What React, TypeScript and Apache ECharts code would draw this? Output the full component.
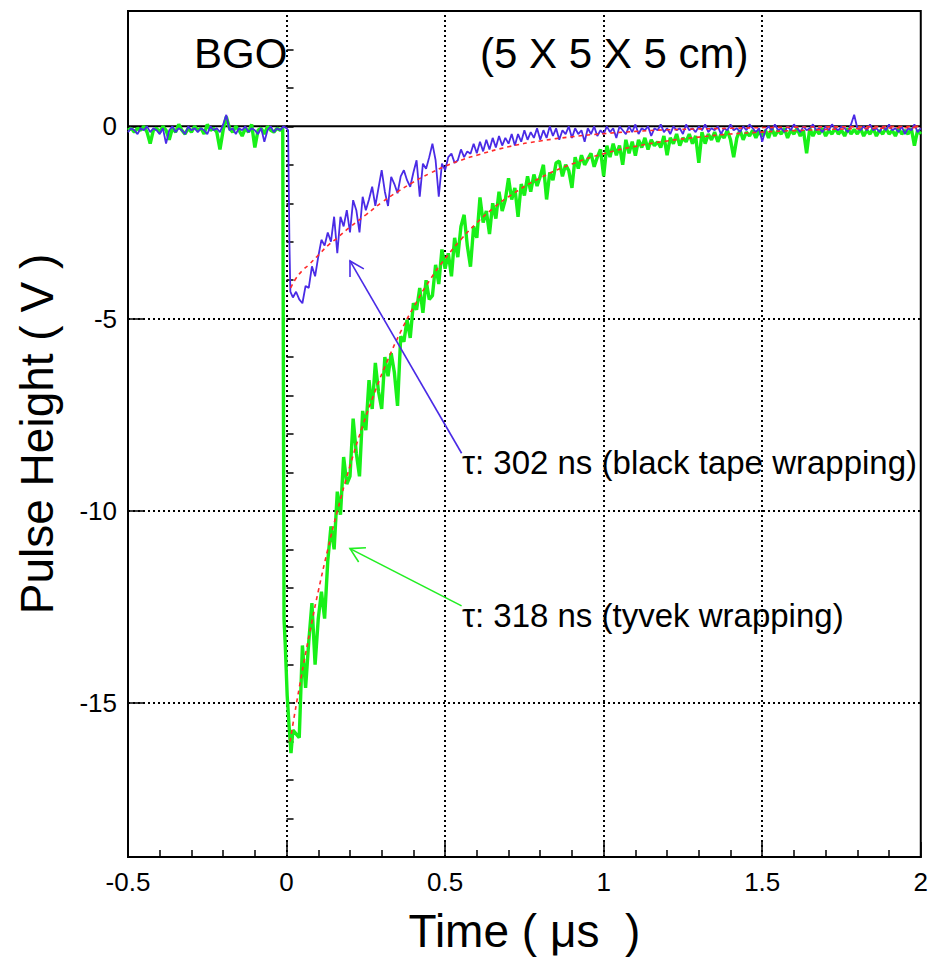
import React, { useEffect, useRef } from "react";
import * as echarts from "echarts";

// ---------- axes ----------
const X_MIN = -0.5;
const X_MAX = 2;
const Y_MIN = -19;
const Y_MAX = 3;
const yMajorTicks = [-15, -10, -5, 0];
const yMinorTicks = [-19, -18, -17, -16, -15, -14, -13, -12, -11, -10, -9, -8, -7, -6, -5, -4, -3, -2, -1, 0, 1, 2, 3];
const xGridValues = [0, 0.5, 1, 1.5];
const yGridValues = [-5, -10, -15];

// ---------- green trace (tyvek wrapping), sampled every 0.01 us ----------
// t = -0.50 .. -0.02
const greenBaseline = [
  -0.1, -0.05, -0.15, -0.05, -0.1, 0.0, -0.15, -0.45, -0.1, -0.05,
  -0.15, 0.0, -0.1, -0.35, -0.05, -0.15, 0.05, -0.1, -0.2, -0.05,
  -0.15, 0.0, -0.1, -0.05, -0.2, 0.05, -0.1, -0.05, -0.15, -0.6,
  -0.1, 0.25, -0.05, -0.15, 0.0, -0.1, -0.25, -0.05, -0.15, 0.05,
  -0.55, -0.1, -0.05, -0.2, 0.0, -0.1, -0.15, -0.05, -0.1,
];
// leading edge
const greenEdgeTimes = [-0.012, -0.008, -0.004, 0.002, 0.008, 0.014, 0.02];
const greenEdgeValues = [-0.05, -12.8, -13.5, -14.8, -15.6, -16.3, -15.7];
// t = 0.03 .. 2.00
const greenDecay = [
  -15.8, -15.9, -13.5, -14.6, -13.4, -12.4, -14.0, -12.8, -12.1, -12.8,
  -11.3, -10.4, -11.0, -9.5, -10.1, -8.6, -9.3, -9.1, -7.6, -8.5,
  -9.1, -7.4, -7.9, -6.6, -7.35, -6.15, -6.9, -7.35, -6.0, -6.5,
  -5.9, -6.4, -7.27, -5.46, -5.6, -5.03, -5.5, -4.6, -4.77, -4.2,
  -4.85, -4.0, -4.5,
  -4.4, -3.6, -4.1, -3.2, -3.7, -3.3, -3.9, -2.9, -3.4, -2.6,
  -2.3, -3.1, -3.65, -2.6, -2.9, -1.85, -2.5, -2.2, -2.8, -2.0,
  -2.4, -1.7, -2.2, -1.9, -1.35, -1.9, -1.6, -2.35, -1.5, -1.8,
  -1.3, -1.7, -1.25, -1.55, -1.3, -1.0, -1.9, -1.2, -1.4, -0.95,
  -0.9, -1.3, -1.0, -1.15, -1.6, -0.8, -1.1, -0.75, -1.0, -0.85,
  -0.7, -1.05, -0.8, -0.6, -1.3,
  -0.5, -0.8, -0.45, -0.75, -0.5, -1.0, -0.35, -0.7, -0.4, -0.76,
  -0.35, -0.55, -0.3, -0.6, -0.35, -0.5, -0.4, -0.55, -0.25, -0.75,
  -0.3, -0.45, -0.2, -0.5, -0.3, -0.4, -0.2, -0.45, -0.25, -0.95,
  -0.15, -0.45, -0.2, -0.35, -0.15, -0.4, -0.2, -0.3, -0.1, -0.35,
  -0.8, -0.3, -0.1, -0.35, -0.15, -0.25, -0.1, -0.3, -0.12, -0.25,
  -0.1, -0.3, -0.05, -0.25, -0.1, -0.2, -0.05, -0.3, -0.1, -0.2,
  -0.05, -0.25, -0.1, -0.7, -0.05, -0.25, -0.08, -0.2, -0.05, -0.25,
  -0.1, -0.2, -0.05, -0.2, -0.1, -0.25, -0.05, -0.2, -0.08, -0.2,
  -0.05, -0.25, -0.1, -0.2, -0.05, -0.25, -0.1, -0.2, -0.05, -0.2,
  -0.1, -0.25, -0.05, -0.2, -0.1, -0.2, -0.05, -0.5, -0.1, -0.2,
];

// ---------- blue trace (black tape wrapping) ----------
// t = -0.50 .. 0.00
const blueBaseline = [
  -0.15, -0.05, -0.1, -0.2, -0.05, -0.1, 0.0, -0.15, -0.05, -0.1,
  -0.2, -0.05, -0.45, -0.1, 0.0, -0.15, -0.05, -0.1, -0.2, 0.0,
  -0.1, -0.05, -0.15, -0.05, -0.1, -0.2, 0.0, -0.1, -0.05, -0.15,
  0.05, 0.3, -0.1, -0.05, -0.2, -0.05, -0.1, 0.0, -0.15, -0.05,
  -0.1, -0.2, -0.05, -0.4, -0.1, 0.0, -0.15, -0.05, -0.1, 0.0,
  -0.05,
];
const blueEdgeTimes = [0.005, 0.009, 0.012];
const blueEdgeValues = [-0.1, -3.0, -4.3];
// t = 0.02 .. 2.00
const blueDecay = [
  -4.45, -4.3, -4.5, -4.6, -4.15, -4.2, -3.64, -3.9, -3.39, -2.95,
  -3.1, -2.76, -3.0, -2.35, -3.3, -2.35, -2.6, -2.18, -2.76, -1.92,
  -2.18, -2.76, -1.83, -2.18, -1.9, -1.57, -2.07, -1.6, -1.14, -1.7,
  -2.07, -1.31, -1.5, -1.74, -1.3, -1.14, -1.4, -1.57, -1.2, -0.88,
  -1.83, -0.97, -1.1, -0.8, -0.45, -0.88, -1.83, -0.97, -1.14, -0.8,
  -0.71, -0.95, -0.88, -0.6, -0.8, -0.65, -0.71, -0.45, -0.7,
  -0.4, -0.65, -0.35, -0.6, -0.3, -0.55, -0.25, -0.5, -0.3, -0.45,
  -0.2, -0.5, -0.2, -0.4, -0.1, -0.35, -0.15, -0.3, -0.05, -0.35,
  -0.1, -0.3, 0.0, -0.25, -0.05, -0.35, -0.1, -0.2, 0.0, -0.3,
  -0.05, -0.2, -0.1, -0.4, -0.05, -0.2, 0.0, -0.25, -0.1, -0.2,
  0.0, -0.15, -0.05, -0.3, 0.0, -0.1, -0.2, 0.0, -0.15, 0.05,
  -0.2, -0.05, -0.1, 0.0, -0.25, -0.05, -0.1, 0.05, -0.15, -0.05,
  -0.2, 0.0, -0.1, -0.05, -0.2, 0.05, -0.1, -0.05, -0.15, 0.0,
  -0.1, 0.05, -0.15, -0.05, -0.1, 0.0, -0.2, -0.05, -0.1, 0.05,
  -0.1, -0.05, -0.15, 0.0, -0.1, 0.05, -0.05, -0.15, -0.05, -0.4,
  -0.1, 0.0, -0.1, 0.05, -0.1, -0.05, -0.15, 0.0, -0.1, 0.05,
  -0.05, -0.15, 0.0, -0.1, -0.05, 0.05, -0.1, -0.05, -0.15, 0.0,
  -0.1, 0.05, -0.05, -0.1, 0.0, -0.05, -0.15, 0.05, 0.3, -0.05,
  -0.1, 0.0, -0.1, 0.05, -0.1, -0.05, -0.15, 0.0, -0.1, 0.05,
  -0.1, -0.05, -0.15, 0.0, -0.2, -0.05, -0.1, 0.05, -0.15, -0.05,
];

// ---------- exponential fits (red dashed) ----------
const greenFitTimes = [0.011, 0.02, 0.04, 0.06, 0.08, 0.1, 0.13, 0.16, 0.2, 0.24, 0.28, 0.32, 0.36, 0.4, 0.45, 0.5, 0.55, 0.6, 0.65, 0.7, 0.8, 0.9, 1.0, 1.1, 1.2, 1.3, 1.4, 1.5, 1.6, 1.8, 2.0];
const greenFitValues = [-16.0, -15.55, -14.6, -13.71, -12.88, -12.09, -11.0, -10.01, -8.83, -7.79, -6.87, -6.06, -5.34, -4.71, -4.02, -3.44, -2.94, -2.51, -2.14, -1.83, -1.34, -0.98, -0.71, -0.52, -0.38, -0.28, -0.2, -0.15, -0.11, -0.06, -0.03];
const blueFitTimes = [0.013, 0.03, 0.05, 0.07, 0.1, 0.13, 0.16, 0.2, 0.25, 0.3, 0.35, 0.4, 0.45, 0.5, 0.55, 0.6, 0.7, 0.8, 0.9, 1.0, 1.1, 1.2, 1.4, 1.6, 1.8, 2.0];
const blueFitValues = [-4.2, -3.95, -3.75, -3.6, -3.35, -3.1, -2.9, -2.62, -2.3, -1.98, -1.7, -1.45, -1.23, -1.04, -0.88, -0.75, -0.53, -0.38, -0.27, -0.19, -0.13, -0.09, -0.05, -0.02, -0.01, 0.0];

// ---------- annotations (data coordinates) ----------
const headerLabels = [
  { text: "BGO", at: [-0.292, 1.9] },
  { text: "(5 X 5 X 5 cm)", at: [0.61, 1.9] },
];
const tauLabels = [
  { text: "τ: 302 ns (black tape wrapping)", at: [0.553, -8.75] },
  { text: "τ: 318 ns (tyvek wrapping)", at: [0.553, -12.72] },
];
const arrows = [
  { from: [0.552, -8.5], to: [0.2, -3.5], color: "#4a2be6" },
  { from: [0.552, -12.47], to: [0.2, -10.98], color: "#22ee22" },
];

const FONT = "'Liberation Sans', Arial, Helvetica, sans-serif";
const BLUE = "#4a2be6";
const GREEN = "#18f018";
const RED = "#ff2a2a";

const tAt = (start: number, i: number) => Math.round((start + i * 0.01) * 1000) / 1000;

function buildSeriesData(
  base: number[], baseStart: number,
  edgeT: number[], edgeV: number[],
  decay: number[], decayStart: number
) {
  return [
    ...base.map((v, i) => [tAt(baseStart, i), v]),
    ...edgeT.map((t, i) => [t, edgeV[i]]),
    ...decay.map((v, i) => [tAt(decayStart, i), v]),
  ];
}

export default function App() {
  const ref = useRef<HTMLDivElement>(null);

  useEffect(() => {
    document.body.style.margin = "0";
    if (!ref.current) return;
    const chart = echarts.init(ref.current, undefined, { renderer: "svg" });

    const greenData = buildSeriesData(greenBaseline, -0.5, greenEdgeTimes, greenEdgeValues, greenDecay, 0.03);
    const blueData = buildSeriesData(blueBaseline, -0.5, blueEdgeTimes, blueEdgeValues, blueDecay, 0.02);
    const greenFit = greenFitTimes.map((t, i) => [t, greenFitValues[i]]);
    const blueFit = blueFitTimes.map((t, i) => [t, blueFitValues[i]]);

    const dotted = { color: "#000", width: 2, type: [2, 3] as number[] };

    const option: any = {
      animation: false,
      backgroundColor: "#fff",
      textStyle: { fontFamily: FONT },
      grid: {
        left: 128,
        right: 10,
        top: 11,
        bottom: 101,
        show: true,
        borderColor: "#000",
        borderWidth: 2,
        backgroundColor: "transparent",
      },
      xAxis: {
        type: "value",
        min: X_MIN,
        max: X_MAX,
        interval: 0.5,
        axisLine: { show: true, onZero: false, lineStyle: { color: "#000", width: 2 } },
        axisTick: { show: true, inside: true, length: 15, lineStyle: { color: "#000", width: 1.5 } },
        minorTick: { show: true, splitNumber: 5, length: 7, lineStyle: { color: "#000", width: 1.5 } },
        splitLine: { show: false },
        axisLabel: { color: "#000", fontSize: 26, fontFamily: FONT, margin: 12 },
        name: "Time ( μs  )",
        nameLocation: "middle",
        nameGap: 51,
        nameTextStyle: { color: "#000", fontSize: 46, fontFamily: FONT },
      },
      yAxis: [
        {
          type: "value",
          min: Y_MIN,
          max: Y_MAX,
          position: "left",
          axisLine: { show: true, onZero: false, lineStyle: { color: "#000", width: 2 } },
          axisTick: { show: true, inside: true, length: 15, customValues: yMajorTicks, lineStyle: { color: "#000", width: 1.5 } },
          axisLabel: { color: "#000", fontSize: 26, fontFamily: FONT, margin: 11, customValues: yMajorTicks },
          splitLine: { show: false },
          name: "Pulse Height ( V )",
          nameLocation: "middle",
          nameRotate: 90,
          nameGap: 68,
          nameTextStyle: { color: "#000", fontSize: 46, fontFamily: FONT },
        },
        {
          type: "value",
          min: Y_MIN,
          max: Y_MAX,
          position: "left",
          axisLine: { show: false },
          axisTick: { show: true, inside: true, length: 7, customValues: yMinorTicks, lineStyle: { color: "#000", width: 1.5 } },
          axisLabel: { show: false },
          splitLine: { show: false },
        },
      ],
      series: [
        {
          name: "zero",
          type: "line",
          data: [[X_MIN, 0], [X_MAX, 0]],
          symbol: "none",
          silent: true,
          z: 1,
          lineStyle: { color: "#000", width: 2 },
          markLine: {
            silent: true,
            symbol: "none",
            z: 1,
            label: { show: false },
            lineStyle: dotted,
            data: [
              ...xGridValues.map((v) => ({ xAxis: v })),
              ...yGridValues.map((v) => ({ yAxis: v })),
            ],
          },
        },
        {
          name: "tyvek",
          type: "line",
          data: greenData,
          symbol: "none",
          z: 3,
          lineStyle: { color: GREEN, width: 3.4 },
        },
        {
          name: "black tape",
          type: "line",
          data: blueData,
          symbol: "none",
          z: 4,
          lineStyle: { color: BLUE, width: 1.8 },
        },
        {
          name: "fit tyvek",
          type: "line",
          data: greenFit,
          symbol: "none",
          smooth: true,
          z: 5,
          lineStyle: { color: RED, width: 1.6, type: [4, 4] },
        },
        {
          name: "fit black",
          type: "line",
          data: blueFit,
          symbol: "none",
          smooth: true,
          z: 5,
          lineStyle: { color: RED, width: 1.6, type: [4, 4] },
        },
      ],
    };

    chart.setOption(option);

    const px = (p: number[]) => chart.convertToPixel({ gridIndex: 0 }, p) as number[];
    const elements: any[] = [];

    const addText = (text: string, at: number[], size: number) => {
      const [x, y] = px(at);
      elements.push({
        type: "text",
        x,
        y,
        z: 10,
        style: {
          text,
          fill: "#000",
          font: `${size}px ${FONT}`,
          align: "left",
          verticalAlign: "middle",
          textAlign: "left",
          textVerticalAlign: "middle",
        },
      });
    };
    headerLabels.forEach((l) => addText(l.text, l.at, 42));
    tauLabels.forEach((l) => addText(l.text, l.at, 33));

    arrows.forEach((a) => {
      const f = px(a.from);
      const t = px(a.to);
      const dx = f[0] - t[0];
      const dy = f[1] - t[1];
      const d = Math.hypot(dx, dy);
      const ux = dx / d;
      const uy = dy / d;
      const len = 16;
      const ang = (30 * Math.PI) / 180;
      const arm = (s: number) => [
        t[0] + len * (ux * Math.cos(s * ang) - uy * Math.sin(s * ang)),
        t[1] + len * (ux * Math.sin(s * ang) + uy * Math.cos(s * ang)),
      ];
      elements.push({
        type: "line",
        z: 10,
        shape: { x1: f[0], y1: f[1], x2: t[0], y2: t[1] },
        style: { stroke: a.color, lineWidth: 1.6 },
      });
      elements.push({
        type: "polyline",
        z: 10,
        shape: { points: [arm(1), t, arm(-1)] },
        style: { stroke: a.color, lineWidth: 1.6, fill: "none" },
      });
    });

    chart.setOption({ graphic: { elements } });

    return () => chart.dispose();
  }, []);

  return <div ref={ref} style={{ width: 931, height: 959 }} />;
}
